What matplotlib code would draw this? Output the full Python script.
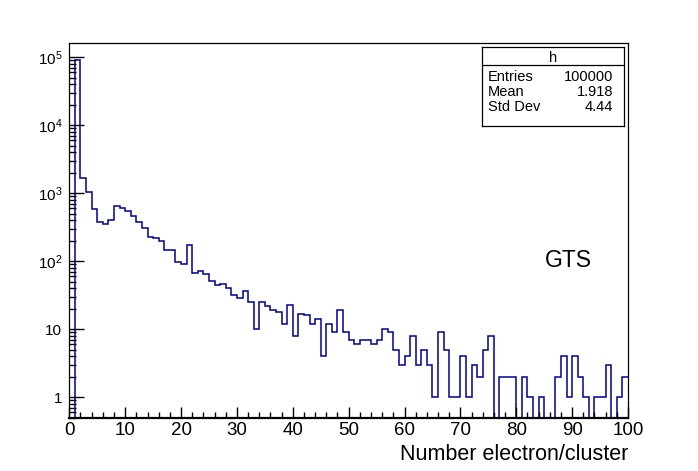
import matplotlib
matplotlib.use("Agg")
import matplotlib.pyplot as plt
from matplotlib.ticker import FixedLocator, MultipleLocator, LogLocator, FuncFormatter, NullFormatter
import numpy as np

plt.rcParams["font.family"] = ["Liberation Sans", "DejaVu Sans"]
plt.rcParams["mathtext.fontset"] = "custom"
plt.rcParams["mathtext.rm"] = "Liberation Sans"

# histogram "h": 100 bins from 0 to 100
bin_edges = np.arange(0, 101, 1)
counts = [
    0, 90000, 1660, 1035, 582, 375, 354, 405, 650, 608,
    550, 460, 375, 305, 225, 218, 199, 147, 147, 97,
    91, 172, 67, 71, 65, 51, 44, 46, 41, 32,
    29, 37, 25, 10, 25, 22, 19, 18, 12, 23,
    8, 17, 16, 12, 14, 4, 12, 9, 19, 9,
    7, 6, 7, 7, 6, 7, 10, 9, 5, 3,
    4, 8, 3, 5, 3, 1, 9, 5, 1, 1,
    4, 1, 3, 2, 5, 8, 0, 2, 2, 2,
    0, 2, 1, 0, 1, 0, 0, 2, 4, 1,
    4, 2, 1, 0, 1, 1, 3, 0, 1, 2,
]
stats_names = ["Entries", "Mean", "Std Dev"]
stats_values = ["100000", "1.918", "4.44"]
hist_name = "h"

y_lo, y_hi = 0.5, 1.64e5

fig = plt.figure(figsize=(6.98, 4.71), dpi=100)
ax = fig.add_axes([0.0993, 0.1132, 0.8004, 0.7961])

# empty bins are drawn on the frame bottom, like ROOT does on a log axis
vals = np.array(counts, dtype=float)
vals = np.where(vals > 0, vals, y_lo)
ax.stairs(vals, bin_edges, baseline=None, color="#000099", lw=1.1)

ax.set_yscale("log")
ax.set_xlim(0, 100)
ax.set_ylim(y_lo, y_hi)

ax.xaxis.set_major_locator(MultipleLocator(10))
ax.xaxis.set_minor_locator(MultipleLocator(2))
ax.yaxis.set_major_locator(FixedLocator([1, 10, 100, 1e3, 1e4, 1e5]))
ax.yaxis.set_minor_locator(LogLocator(base=10, subs=np.arange(2, 10)))
ax.yaxis.set_minor_formatter(NullFormatter())

def ylab(v, pos):
    if v == 1:
        return "1"
    if v == 10:
        return "10"
    return r"$\mathregular{10^{%d}}$" % int(round(np.log10(v)))

ax.yaxis.set_major_formatter(FuncFormatter(ylab))

ax.tick_params(axis="both", which="both", direction="in", top=False, right=False, color="black")
ax.tick_params(axis="x", which="major", length=8, width=1, labelsize=13.5, pad=3)
ax.tick_params(axis="x", which="minor", length=4.2, width=1)
ax.tick_params(axis="y", which="major", length=11, width=1, labelsize=11, pad=5)
ax.tick_params(axis="y", which="minor", length=5.3, width=1)
for s in ax.spines.values():
    s.set_linewidth(0.9)
ax.spines["bottom"].set_linewidth(1.6)

ax.set_xlabel("Number electron/cluster", fontsize=15.5, loc="right")
ax.xaxis.set_label_coords(1.0, -0.07)

ax.text(0.851, 0.403, "GTS", transform=ax.transAxes, fontsize=16.5,
        ha="left", va="baseline")

# stats box
sb = fig.add_axes([0.690, 0.7325, 0.204, 0.167])
sb.set_xticks([]); sb.set_yticks([])
sb.set_xlim(0, 1); sb.set_ylim(0, 1)
for s in sb.spines.values():
    s.set_linewidth(0.9)
sb.axhline(0.775, color="black", lw=0.9)
sb.text(0.5, 0.87, hist_name, ha="center", va="center", fontsize=10.5)
for yy, name, val in zip([0.623, 0.436, 0.245], stats_names, stats_values):
    sb.text(0.044, yy, name, ha="left", va="center", fontsize=10.5)
    sb.text(0.925, yy, val, ha="right", va="center", fontsize=10.5)

fig.savefig("out.png", dpi=100)
